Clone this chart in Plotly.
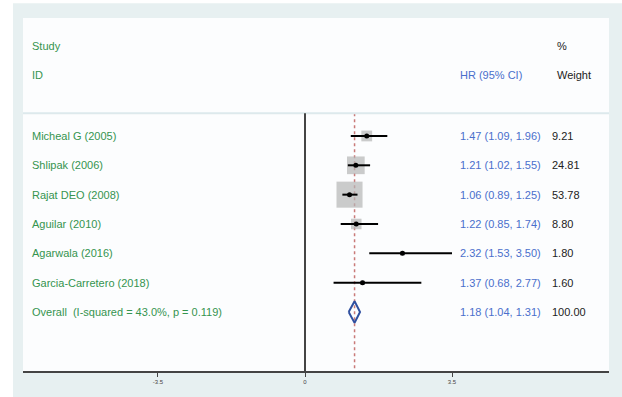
import plotly.graph_objects as go

studies = ["Micheal G (2005)", "Shlipak (2006)", "Rajat DEO (2008)", "Aguilar (2010)",
           "Agarwala (2016)", "Garcia-Carretero (2018)"]
hr = [1.47, 1.21, 1.06, 1.22, 2.32, 1.37]
lo = [1.09, 1.02, 0.89, 0.85, 1.53, 0.68]
hi = [1.96, 1.55, 1.25, 1.74, 3.50, 2.77]
weights = [9.21, 24.81, 53.78, 8.80, 1.80, 1.60]

overall_label = "Overall  (I-squared = 43.0%, p = 0.119)"
overall_est, overall_lo, overall_hi = 1.18, 1.04, 1.31
overall_weight = "100.00"

tick_vals = [-3.5, 0, 3.5]
tick_text = ["-3.5", "0", "3.5"]

W, H = 622, 397
ML, MR, MT, MB = 23, 13, 18, 20
PW, PH = W - ML - MR, H - MT - MB

GREEN = "#35944f"
BLUE = "#4a6fcc"
DARK = "#222222"
OUTER = "#e7f0f1"
INNER = "#fcfdfe"
FONT = "Liberation Sans, Arial, sans-serif"

rows = list(range(1, len(studies) + 1))
orow = len(studies) + 1
xr = [-6.714, 7.238]
yr = [9.01, -3.02]
sep_y = 0.23

fig = go.Figure()

# weighted squares
fig.add_trace(go.Scatter(
    x=hr, y=rows, mode="markers", hoverinfo="skip",
    marker=dict(symbol="square", color="#b5b5b5",
                size=[3.55 * w ** 0.5 for w in weights], line=dict(width=0)),
))
# confidence intervals and point estimates
fig.add_trace(go.Scatter(
    x=hr, y=rows, mode="markers", hoverinfo="skip",
    marker=dict(symbol="circle", color="black", size=5),
    error_x=dict(type="data", symmetric=False,
                 array=[h - e for h, e in zip(hi, hr)],
                 arrayminus=[e - l for e, l in zip(hr, lo)],
                 width=0, thickness=2, color="black"),
))
# overall diamond
dh = 0.37
fig.add_trace(go.Scatter(
    x=[overall_lo, overall_est, overall_hi, overall_est, overall_lo],
    y=[orow, orow - dh, orow, orow + dh, orow],
    mode="lines", line=dict(color="#2f4f9f", width=2), hoverinfo="skip",
))

shapes = [
    # white margin strips outside the light frame
    dict(type="rect", xref="paper", yref="paper", x0=-ML / PW - 0.01, x1=-(ML - 13) / PW,
         y0=-MB / PH - 0.05, y1=1 + MT / PH + 0.05, fillcolor="white", line=dict(width=0), layer="below"),
    dict(type="rect", xref="paper", yref="paper", x0=-ML / PW - 0.01, x1=1 + MR / PW + 0.01,
         y0=1 + (MT - 3) / PH, y1=1 + MT / PH + 0.05, fillcolor="white", line=dict(width=0), layer="below"),
    # header separator
    dict(type="line", xref="paper", yref="y", x0=0, x1=1, y0=sep_y, y1=sep_y,
         line=dict(color="#dde9ec", width=2)),
    # null line
    dict(type="line", xref="x", yref="y", x0=0, x1=0, y0=sep_y, y1=yr[0],
         line=dict(color="#444444", width=2)),
    # overall dotted line
    dict(type="line", xref="x", yref="y", x0=overall_est, x1=overall_est, y0=sep_y, y1=yr[0],
         line=dict(color="#c97a78", width=1.5, dash="dot"), layer="below"),
]

ann = []
def txt(x, y, s, color, size=11):
    ann.append(dict(x=x, y=y, xref="x", yref="y", text=s, showarrow=False,
                    xanchor="left", yanchor="middle",
                    font=dict(family=FONT, size=size, color=color)))

x_study = (30 - 305) / 42
x_hr = (458 - 305) / 42
x_w = (550 - 305) / 42
x_wh = (555 - 305) / 42

txt(x_study, -2.05, "Study", GREEN)
txt(x_study, -1.08, "ID", GREEN)
txt(x_hr, -1.08, "HR (95% CI)", BLUE)
txt(x_wh, -2.05, "%", DARK)
txt(x_wh, -1.08, "Weight", DARK)

for r, s, e, l, h, w in zip(rows, studies, hr, lo, hi, weights):
    txt(x_study, r, s, GREEN)
    txt(x_hr, r, f"{e:.2f} ({l:.2f}, {h:.2f})", BLUE)
    txt(x_w, r, f"{w:.2f}", DARK)

txt(x_study, orow, overall_label, GREEN)
txt(x_hr, orow, f"{overall_est:.2f} ({overall_lo:.2f}, {overall_hi:.2f})", BLUE)
txt(x_w, orow, overall_weight, DARK)

fig.update_layout(
    width=W, height=H,
    margin=dict(l=ML, r=MR, t=MT, b=MB, pad=0),
    paper_bgcolor=OUTER, plot_bgcolor=INNER,
    showlegend=False,
    shapes=shapes, annotations=ann,
    xaxis=dict(range=xr, tickvals=tick_vals, ticktext=tick_text, showgrid=False,
               zeroline=False, showline=True, linecolor="#444444", linewidth=2,
               ticks="outside", ticklen=4, tickwidth=1, tickcolor="#444444",
               tickfont=dict(family=FONT, size=6, color="#444444"), fixedrange=True),
    yaxis=dict(range=yr, visible=False, showgrid=False, zeroline=False, fixedrange=True),
)

fig.write_html("out.html")
